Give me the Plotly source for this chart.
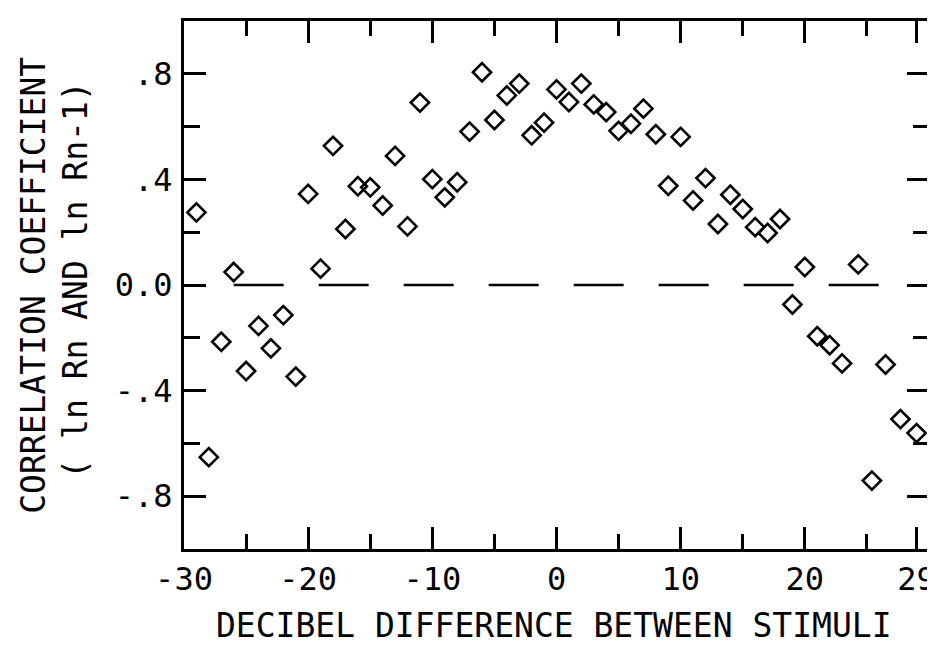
import plotly.graph_objects as go

# Decibel difference between stimuli (x) and correlation coefficient (y)
db_diff = [-29, -28, -27, -26, -25, -24, -23, -22, -21, -20,
           -19, -18, -17, -16, -15, -14, -13, -12, -11, -10,
           -9, -8, -7, -6, -5, -4, -3, -2, -1, 0,
           1, 2, 3, 4, 5, 6, 7, 8, 9, 10,
           11, 12, 13, 14, 15, 16, 17, 18, 19, 20,
           21, 22, 23, 24.3, 25.4, 26.5, 27.7, 29]
corr = [0.275, -0.652, -0.215, 0.049, -0.326, -0.155, -0.24, -0.114, -0.347, 0.345,
        0.062, 0.527, 0.212, 0.374, 0.37, 0.301, 0.489, 0.222, 0.691, 0.401,
        0.332, 0.389, 0.581, 0.806, 0.625, 0.718, 0.763, 0.567, 0.615, 0.741,
        0.693, 0.763, 0.684, 0.655, 0.584, 0.611, 0.668, 0.571, 0.376, 0.561,
        0.32, 0.405, 0.231, 0.342, 0.288, 0.219, 0.197, 0.25, -0.074, 0.068,
        -0.194, -0.228, -0.297, 0.078, -0.741, -0.301, -0.508, -0.561]

x_tickvals = [-30, -20, -10, 0, 10, 20, 29]
x_ticktext = ["-30", "-20", "-10", "0", "10", "20", "29"]
x_minor = [-25, -15, -5, 5, 15, 25]
y_tickvals = [-0.8, -0.4, 0.0, 0.4, 0.8]
y_ticktext = ["-.8", "-.4", "0.0", ".4", ".8"]
y_minor = [-0.6, -0.2, 0.2, 0.6]
zero_line_x = [-26, 26]
zero_line_y = [0, 0]

x_title = "DECIBEL DIFFERENCE BETWEEN STIMULI"
y_title_1 = "CORRELATION COEFFICIENT"
y_title_2 = "( ln Rn AND ln Rn-1)"

FONT = "DejaVu Sans Mono"

fig = go.Figure()
fig.add_trace(go.Scatter(
    x=zero_line_x, y=zero_line_y, mode="lines",
    line=dict(color="black", width=2.5, dash="50px,35px"),
    hoverinfo="skip", showlegend=False,
))
fig.add_trace(go.Scatter(
    x=db_diff, y=corr, mode="markers",
    marker=dict(symbol="diamond-open", size=14, color="black",
                line=dict(width=2.6, color="black")),
    showlegend=False,
))

axis_common = dict(
    showline=True, linewidth=3, linecolor="black", mirror="ticks",
    ticks="inside", tickwidth=2.5, tickcolor="black",
    showgrid=False, zeroline=False,
    tickfont=dict(family=FONT, size=32, color="black"),
)

fig.update_xaxes(
    range=[-30, 30], tickmode="array", tickvals=x_tickvals, ticktext=x_ticktext,
    ticklen=22, ticklabelstandoff=0,
    minor=dict(tickmode="array", tickvals=x_minor, ticks="inside", ticklen=15,
               tickwidth=2.5, tickcolor="black", showgrid=False),
    **axis_common,
)
fig.update_yaxes(
    range=[-1, 1], tickmode="array", tickvals=y_tickvals, ticktext=y_ticktext,
    ticklen=22, ticklabelstandoff=2,
    minor=dict(tickmode="array", tickvals=y_minor, ticks="inside", ticklen=16,
               tickwidth=2.5, tickcolor="black", showgrid=False),
    **axis_common,
)

title_font = dict(family=FONT, size=33, color="black")
fig.add_annotation(
    text=x_title, xref="paper", yref="paper", x=0.496, y=-0.145,
    xanchor="center", yanchor="middle", showarrow=False, font=title_font,
)
fig.add_annotation(
    text=y_title_1, textangle=-90,
    xref="paper", yref="paper", x=-0.203, y=0.5, xanchor="center", yanchor="middle",
    showarrow=False, font=title_font,
)
fig.add_annotation(
    text=y_title_2, textangle=-90,
    xref="paper", yref="paper", x=-0.145, y=0.51, xanchor="center", yanchor="middle",
    showarrow=False, font=title_font,
)

fig.update_layout(
    width=935, height=649,
    margin=dict(l=176, r=7, t=13, b=108),
    plot_bgcolor="white", paper_bgcolor="white",
    showlegend=False,
)

fig.write_html("out.html")
